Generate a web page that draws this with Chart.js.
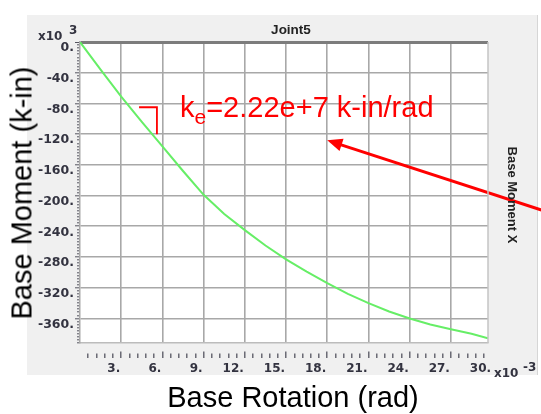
<!DOCTYPE html>
<html>
<head>
<meta charset="utf-8">
<script src="https://cdn.jsdelivr.net/npm/chart.js@4.4.1/dist/chart.umd.min.js"></script>
<style>
  html, body { margin: 0; padding: 0; }
  body { width: 541px; height: 414px; overflow: hidden; background: #ffffff; position: relative; font-family: "Liberation Sans", Arial, sans-serif; }
  #panel { position: absolute; left: 27px; top: 15px; width: 510px; height: 360px; background: #f0f0f0; border-right: 1px solid #d6d6d6; }
  #wrap { position: absolute; left: 0; top: 0; width: 541px; height: 414px; }
  .t { position: absolute; white-space: nowrap; }
  .small { font-family: "DejaVu Sans", sans-serif; font-weight: bold; font-size: 12px; color: #333340; }
  .head { font-family: "Liberation Sans", Arial, sans-serif; font-weight: bold; color: #222; }
  #ytitle { left: 22px; top: 193px; font-size: 29px; color: #000; transform: translate(-50%, -50%) rotate(-90deg); }
  #xtitle { left: 293px; top: 381px; font-size: 29px; color: #000; transform: translateX(-50%); }
  #joint { left: 291px; top: 22px; font-size: 13.5px; transform: translateX(-50%); }
  #rtitle { left: 512px; top: 195px; font-size: 13px; transform: translate(-50%, -50%) rotate(90deg); }
  #ke { left: 180px; top: 93px; font-size: 29px; line-height: 29px; color: #ff0000; }
  #ke sub { font-size: 21px; vertical-align: -7px; line-height: 0; }
</style>
</head>
<body>
<div id="panel"></div>
<div id="wrap"><canvas id="c" width="541" height="414"></canvas></div>
<div class="t head" id="joint">Joint5</div>
<div class="t small" style="left:38px;top:29px;">x10</div>
<div class="t small" style="left:69px;top:23px;">3</div>
<div class="t small" style="left:494px;top:366px;">x10</div>
<div class="t small" style="left:523px;top:360px;">-3</div>
<div class="t head" id="rtitle">Base Moment X</div>
<div class="t" id="ytitle">Base Moment (k-in)</div>
<div class="t" id="xtitle">Base Rotation (rad)</div>
<div class="t" id="ke">k<sub>e</sub>=2.22e+7 k-in/rad</div>
<script>
// ---- data (rotation in 1e-3 rad, moment in 1e3 k-in) ----
const rotation = [0, 1.5, 3, 4.5, 6, 7.5, 9, 10.5, 12, 13.5, 15, 16.5, 18, 19.5, 21, 22.5, 24, 25.5, 27, 28.5, 29.7];
const moment   = [0, -36, -71, -104, -136, -168, -199, -224, -245, -265, -283, -299, -314, -328, -340, -351, -360, -368, -374, -380, -386];

// tick label values
const xTickValues = [3, 6, 9, 12, 15, 18, 21, 24, 27, 30];
const yTickValues = [0, -40, -80, -120, -160, -200, -240, -280, -320, -360];

// annotation anchors in data units
const slopeX = [4.3, 5.6];
const slopeY = [-85, -120];
const arrowTip = [18, -128];
const arrowTail = [35, -227];

const X_MAX = 29.7, Y_MIN = -392;
const near = (a, b) => Math.abs(a - b) < 1e-6;
const isXMajor = v => xTickValues.some(t => near(t, v));
const isYMajor = v => yTickValues.some(t => near(t, v));

const framePlugin = {
  id: 'frame',
  beforeDraw(chart) {
    const {ctx, chartArea: a} = chart;
    ctx.save();
    ctx.fillStyle = '#ffffff';
    ctx.fillRect(a.left, a.top, a.right - a.left, a.bottom - a.top);
    ctx.restore();
  },
  afterDraw(chart) {
    const {ctx, chartArea: a} = chart;
    ctx.save();
    ctx.strokeStyle = '#c4c4c4';
    ctx.lineWidth = 1.5;
    ctx.beginPath();
    ctx.moveTo(a.right, a.top);
    ctx.lineTo(a.right, a.bottom);
    ctx.stroke();
    ctx.restore();
  }
};

const annotPlugin = {
  id: 'annot',
  afterDatasetsDraw(chart) {
    const {ctx, scales: {x, y}} = chart;
    ctx.save();
    ctx.strokeStyle = '#ff0000';
    ctx.fillStyle = '#ff0000';
    // slope bracket
    ctx.lineWidth = 1.8;
    ctx.beginPath();
    ctx.moveTo(x.getPixelForValue(slopeX[0]), y.getPixelForValue(slopeY[0]));
    ctx.lineTo(x.getPixelForValue(slopeX[1]), y.getPixelForValue(slopeY[0]));
    ctx.lineTo(x.getPixelForValue(slopeX[1]), y.getPixelForValue(slopeY[1]));
    ctx.stroke();
    // arrow
    const tx = x.getPixelForValue(arrowTip[0]), ty = y.getPixelForValue(arrowTip[1]);
    const sx = x.getPixelForValue(arrowTail[0]), sy = y.getPixelForValue(arrowTail[1]);
    const ang = Math.atan2(ty - sy, tx - sx);
    const hl = 15, hw = 6.5;
    const bx = tx - hl * Math.cos(ang), by = ty - hl * Math.sin(ang);
    ctx.lineWidth = 3;
    ctx.beginPath();
    ctx.moveTo(sx, sy);
    ctx.lineTo(bx + 2 * Math.cos(ang), by + 2 * Math.sin(ang));
    ctx.stroke();
    ctx.beginPath();
    ctx.moveTo(tx, ty);
    ctx.lineTo(bx + hw * Math.sin(ang), by - hw * Math.cos(ang));
    ctx.lineTo(bx - hw * Math.sin(ang), by + hw * Math.cos(ang));
    ctx.closePath();
    ctx.fill();
    ctx.restore();
  }
};

const tickFont = {family: 'DejaVu Sans', weight: 'bold', size: 12.5};

new Chart(document.getElementById('c'), {
  type: 'line',
  data: {
    datasets: [{
      data: rotation.map((r, i) => ({x: r, y: moment[i]})),
      borderColor: '#66ee66',
      borderWidth: 2,
      pointRadius: 0,
      tension: 0,
      fill: false
    }]
  },
  options: {
    responsive: false,
    animation: false,
    devicePixelRatio: 1,
    layout: {padding: {left: 0, top: 42, right: 53, bottom: 0}},
    plugins: {legend: {display: false}, tooltip: {enabled: false}, title: {display: false}},
    scales: {
      x: {
        type: 'linear',
        position: 'bottom',
        min: 0,
        max: X_MAX,
        afterFit: s => { s.height = 71; },
        afterBuildTicks: s => { s.ticks.push({value: 30}); },
        ticks: {
          stepSize: 0.6,
          autoSkip: false,
          includeBounds: false,
          maxRotation: 0,
          minRotation: 0,
          align: 'end',
          labelOffset: -1,
          padding: 4,
          font: {family: 'DejaVu Sans', weight: 'bold', size: 12},
          color: '#333340',
          callback: v => (isXMajor(v) ? Math.round(v) + '.' : '')
        },
        grid: {
          color: c => (c.tick && isXMajor(c.tick.value) && c.tick.value < X_MAX) ? '#a8a8a8' : 'transparent',
          lineWidth: 1.6,
          drawTicks: true,
          tickLength: 15,
          tickWidth: 1.3,
          tickColor: c => (c.tick && c.tick.value > 0 && c.tick.value < X_MAX) ? '#555560' : 'transparent',
          tickBorderDash: c => (c.tick && isXMajor(c.tick.value)) ? [0, 8, 7, 40] : [0, 10, 5, 40]
        },
        border: {display: true, color: '#bcbcbc', width: 1.5}
      },
      y: {
        type: 'linear',
        position: 'left',
        min: Y_MIN,
        max: 0,
        afterFit: s => { s.width = 80; },
        ticks: {
          stepSize: 4,
          autoSkip: false,
          includeBounds: false,
          labelOffset: 6,
          padding: 1,
          font: tickFont,
          color: '#333340',
          callback: v => (isYMajor(v) ? Math.round(v) + '.' : '')
        },
        grid: {
          color: c => {
            if (!c.tick) return 'transparent';
            if (near(c.tick.value, 0)) return '#7c7c7c';
            return isYMajor(c.tick.value) ? '#a8a8a8' : 'transparent';
          },
          lineWidth: c => (c.tick && near(c.tick.value, 0)) ? 3 : 1.6,
          tickLength: 5,
          tickWidth: 1,
          tickColor: '#555560',
          tickBorderDash: c => (c.tick && isYMajor(c.tick.value)) ? [] : [0, 2, 3, 20]
        },
        border: {display: true, color: '#a8a8a8', width: 1.5}
      }
    }
  },
  plugins: [framePlugin, annotPlugin]
});
</script>
</body>
</html>
